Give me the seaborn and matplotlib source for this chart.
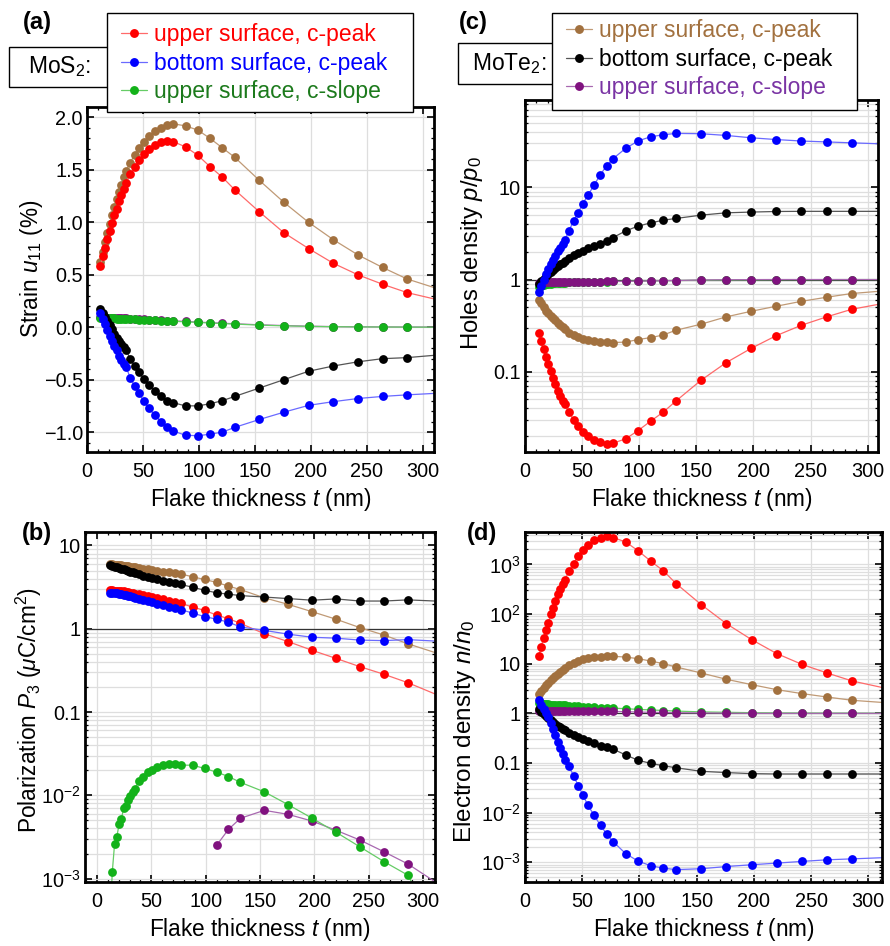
import numpy as np
import pandas as pd
import matplotlib
matplotlib.use("Agg")
import matplotlib.pyplot as plt
from matplotlib import ticker
from matplotlib.lines import Line2D
from matplotlib.patches import Rectangle
import seaborn as sns

nan = np.nan

# Flake thickness t (nm) shared by every curve
thickness = [12, 14.1, 16.2, 18.3, 20.4, 22.5, 24.5, 26.6, 28.7, 30.8, 32.9, 35,
             38.5, 42.5, 46.5, 50.5, 55, 60.5, 66, 71.5, 77,
             88, 99, 110, 121, 132, 154, 176, 198, 220, 242, 264, 286, 330]

# (a) strain u11 (%)
strain_red = [0.58, 0.68, 0.76, 0.84, 0.92, 0.99, 1.07, 1.13, 1.20, 1.26, 1.32, 1.38,
              1.46, 1.53, 1.59, 1.65, 1.70, 1.74, 1.77, 1.78, 1.77,
              1.72, 1.64, 1.53, 1.43, 1.31, 1.10, 0.90, 0.75, 0.61, 0.50, 0.41, 0.33, 0.22]
strain_blue = [0.14, 0.08, 0.03, -0.03, -0.08, -0.13, -0.18, -0.22, -0.27, -0.31, -0.35, -0.38,
               -0.48, -0.56, -0.63, -0.70, -0.77, -0.84, -0.90, -0.95, -0.99,
               -1.03, -1.035, -1.02, -1.00, -0.955, -0.88, -0.81, -0.745, -0.71, -0.68, -0.66, -0.645, -0.62]
strain_green = [0.090, 0.089, 0.088, 0.087, 0.086, 0.085, 0.084, 0.083, 0.082, 0.081, 0.080, 0.079,
                0.077, 0.075, 0.073, 0.071, 0.069, 0.066, 0.063, 0.060, 0.057,
                0.051, 0.046, 0.040, 0.035, 0.030, 0.020, 0.013, 0.008, 0.005, 0.003, 0.002, 0.001, 0.0]
strain_brown = [0.62, 0.72, 0.81, 0.90, 0.98, 1.07, 1.15, 1.22, 1.29, 1.36, 1.43, 1.49,
                1.57, 1.64, 1.71, 1.77, 1.82, 1.87, 1.90, 1.93, 1.94,
                1.92, 1.88, 1.80, 1.71, 1.62, 1.40, 1.19, 1.00, 0.835, 0.69, 0.57, 0.46, 0.31]
strain_black = [0.17, 0.14, 0.10, 0.06, 0.02, -0.02, -0.06, -0.10, -0.13, -0.16, -0.19, -0.22,
                -0.30, -0.37, -0.43, -0.49, -0.55, -0.61, -0.66, -0.70, -0.72,
                -0.75, -0.75, -0.73, -0.70, -0.66, -0.58, -0.50, -0.42, -0.37, -0.33, -0.30, -0.29, -0.25]
strain_purple = [0.095, 0.094, 0.093, 0.092, 0.091, 0.090, 0.089, 0.088, 0.087, 0.086, 0.085, 0.084,
                 0.082, 0.080, 0.078, 0.076, 0.073, 0.070, 0.067, 0.064, 0.061,
                 0.055, 0.049, 0.043, 0.038, 0.033, 0.023, 0.016, 0.010, 0.006, 0.004, 0.003, 0.002, 0.001]

# (b) polarization P3 (uC/cm^2)
pol_red = [2.88, 2.88, 2.87, 2.86, 2.84, 2.82, 2.80, 2.77, 2.74, 2.71, 2.68, 2.64,
           2.58, 2.52, 2.46, 2.40, 2.33, 2.25, 2.17, 2.10, 2.02,
           1.82, 1.66, 1.46, 1.32, 1.16, 0.87, 0.70, 0.55, 0.44, 0.35, 0.284, 0.225, 0.13]
pol_blue = [2.72, 2.70, 2.68, 2.66, 2.63, 2.60, 2.57, 2.53, 2.49, 2.45, 2.41, 2.37,
            2.30, 2.22, 2.15, 2.08, 2.00, 1.92, 1.84, 1.77, 1.70,
            1.54, 1.40, 1.30, 1.20, 1.05, 0.955, 0.86, 0.79, 0.77, 0.73, 0.72, 0.74, 0.69]
pol_green = [3e-4, 1.2e-3, 2.6e-3, 3.2e-3, 4.5e-3, 5.2e-3, 7.0e-3, 7.4e-3, 8.9e-3, 9.8e-3, 0.011, 0.012,
             0.0147, 0.0168, 0.0188, 0.0204, 0.0218, 0.023, 0.0238, 0.0238, 0.023,
             0.023, 0.021, 0.019, 0.0168, 0.0143, 0.011, 0.0077, 0.0053, 0.0036, 0.0024, 0.0016, 0.0011, 1e-4]
pol_brown = [5.95, 5.92, 5.88, 5.84, 5.80, 5.75, 5.70, 5.65, 5.60, 5.55, 5.50, 5.45,
             5.35, 5.25, 5.15, 5.05, 4.95, 4.85, 4.75, 4.65, 4.55,
             4.2, 3.9, 3.6, 3.25, 2.95, 2.35, 1.96, 1.6, 1.3, 1.03, 0.84, 0.66, 0.43]
pol_black = [5.75, 5.65, 5.55, 5.45, 5.35, 5.25, 5.15, 5.05, 4.95, 4.85, 4.75, 4.65,
             4.5, 4.35, 4.2, 4.05, 3.9, 3.75, 3.62, 3.5, 3.4,
             3.15, 2.9, 2.7, 2.6, 2.5, 2.4, 2.3, 2.2, 2.28, 2.15, 2.15, 2.22, 2.1]
pol_purple = [nan, nan, nan, nan, nan, nan, nan, nan, nan, nan, nan, nan,
              nan, nan, nan, nan, nan, nan, nan, nan, nan,
              nan, nan, 2.5e-3, 3.9e-3, 5.3e-3, 6.6e-3, 5.9e-3, 4.9e-3, 3.8e-3, 2.9e-3, 2.1e-3, 1.5e-3, 6.3e-4]

# (c) holes density p/p0
holes_red = [0.263, 0.215, 0.174, 0.145, 0.12, 0.102, 0.086, 0.073, 0.0616, 0.054, 0.0478, 0.0441,
             0.0362, 0.0302, 0.0254, 0.0223, 0.0198, 0.0179, 0.017, 0.0165, 0.0167,
             0.0186, 0.0229, 0.029, 0.0363, 0.0478, 0.0804, 0.125, 0.179, 0.246, 0.319, 0.393, 0.475, 0.6]
holes_blue = [0.74, 0.86, 1.0, 1.14, 1.3, 1.47, 1.64, 1.82, 2.02, 2.22, 2.45, 2.7,
              3.4, 4.3, 5.3, 6.6, 8.2, 10.6, 13.8, 17.2, 20.5,
              26.5, 32, 35.5, 37.3, 38.6, 38.3, 36.7, 34.6, 33.1, 31.9, 31.2, 30.5, 29.2]
holes_green = [0.83, 0.86, 0.88, 0.89, 0.90, 0.905, 0.91, 0.915, 0.92, 0.922, 0.925, 0.928,
               0.93, 0.933, 0.936, 0.939, 0.942, 0.945, 0.948, 0.95, 0.952,
               0.955, 0.96, 0.965, 0.97, 0.975, 0.983, 0.988, 0.992, 0.995, 0.997, 0.998, 0.999, 1.0]
holes_brown = [0.596, 0.55, 0.5, 0.46, 0.43, 0.40, 0.38, 0.36, 0.34, 0.32, 0.305, 0.29,
               0.265, 0.25, 0.237, 0.226, 0.218, 0.213, 0.21, 0.208, 0.207,
               0.209, 0.223, 0.234, 0.25, 0.281, 0.327, 0.393, 0.452, 0.513, 0.58, 0.642, 0.705, 0.78]
holes_black = [0.9, 0.96, 1.02, 1.08, 1.15, 1.21, 1.28, 1.34, 1.41, 1.47, 1.53, 1.6,
               1.72, 1.84, 1.95, 2.06, 2.18, 2.32, 2.46, 2.65, 2.85,
               3.37, 3.8, 4.12, 4.41, 4.6, 5.0, 5.3, 5.4, 5.48, 5.5, 5.5, 5.5, 5.5]
holes_purple = [0.92, 0.925, 0.93, 0.932, 0.934, 0.936, 0.938, 0.94, 0.941, 0.942, 0.943, 0.944,
                0.945, 0.946, 0.947, 0.948, 0.949, 0.95, 0.951, 0.952, 0.953,
                0.956, 0.96, 0.965, 0.97, 0.975, 0.99, 0.995, 0.998, 1.0, 1.0, 1.0, 1.0, 1.0]

# (d) electron density n/n0
elec_red = [14.1, 21.7, 33, 47, 67.5, 99, 135, 184, 251, 321, 399, 496,
            740, 1042, 1463, 1933, 2473, 3077, 3482, 3700, 3482,
            2840, 1870, 1160, 741, 412, 155, 64, 30.6, 16, 9.7, 6.5, 4.48, 2.7]
elec_blue = [1.83, 1.5, 1.22, 1.0, 0.85, 0.65, 0.48, 0.36, 0.27, 0.2, 0.15, 0.115,
             0.085, 0.055, 0.035, 0.023, 0.014, 0.0088, 0.0055, 0.0037, 0.0026,
             0.00149, 0.00105, 0.00085, 0.00076, 0.00071, 0.00074, 0.00082, 0.00089, 0.00096, 0.00104, 0.00112, 0.00117, 0.00128]
elec_green = [1.6, 1.58, 1.56, 1.54, 1.52, 1.5, 1.49, 1.48, 1.47, 1.46, 1.45, 1.44,
              1.42, 1.4, 1.38, 1.36, 1.34, 1.32, 1.3, 1.28, 1.27,
              1.24, 1.2, 1.17, 1.14, 1.11, 1.07, 1.05, 1.03, 1.02, 1.015, 1.01, 1.01, 1.0]
elec_brown = [2.42, 2.8, 3.2, 3.65, 4.1, 4.6, 5.15, 5.7, 6.3, 6.9, 7.5, 8.1,
              9.4, 10.5, 11.4, 12.2, 12.9, 13.5, 13.9, 14.1, 14.1,
              13.6, 12.6, 11.3, 10, 8.6, 6.5, 4.85, 3.79, 3.0, 2.5, 2.13, 1.83, 1.55]
elec_black = [1.2, 1.08, 0.97, 0.88, 0.8, 0.73, 0.67, 0.62, 0.56, 0.52, 0.48, 0.454,
              0.41, 0.37, 0.335, 0.305, 0.28, 0.25, 0.222, 0.208, 0.19,
              0.145, 0.113, 0.098, 0.088, 0.08, 0.068, 0.064, 0.061, 0.06, 0.06, 0.06, 0.06, 0.06]
elec_purple = [1.12, 1.12, 1.12, 1.115, 1.115, 1.11, 1.11, 1.11, 1.105, 1.105, 1.1, 1.1,
               1.1, 1.1, 1.1, 1.1, 1.1, 1.095, 1.095, 1.09, 1.09,
               1.08, 1.06, 1.05, 1.04, 1.03, 1.02, 1.01, 1.0, 1.0, 1.0, 1.0, 1.0, 1.0]

mos2_labels = ["upper surface, c-peak", "bottom surface, c-peak", "upper surface, c-slope"]
mote2_labels = ["upper surface, c-peak", "bottom surface, c-peak", "upper surface, c-slope"]

# marker colour, connecting-line colour, legend text colour
STYLE = {
    "red":    ("#ff0000", "#ff6a6a", "#ff0000"),
    "blue":   ("#0000ff", "#6a6aff", "#0000ff"),
    "green":  ("#13b21a", "#66cc66", "#1c7a1c"),
    "brown":  ("#a2713f", "#c09a76", "#a2713f"),
    "black":  ("#000000", "#555555", "#000000"),
    "purple": ("#80127f", "#a868b0", "#7a34a4"),
}

sns.set_theme(style="ticks")
plt.rcParams.update({
    "font.family": ["Liberation Sans", "DejaVu Sans"],
    "mathtext.fontset": "custom",
    "mathtext.rm": "Liberation Sans",
    "mathtext.it": "Liberation Sans:italic",
    "mathtext.bf": "Liberation Sans:bold",
    "axes.linewidth": 2.0,
    "axes.edgecolor": "black",
    "xtick.color": "black",
    "ytick.color": "black",
    "text.color": "black",
    "axes.labelcolor": "black",
})

W, H = 890, 946
fig = plt.figure(figsize=(W / 100, H / 100), dpi=100)


def px_axes(left, top, right, bottom):
    return fig.add_axes([left / W, 1 - bottom / H, (right - left) / W, (bottom - top) / H])


ax_a = px_axes(87, 107, 434, 452)
ax_b = px_axes(85, 532, 435, 882)
ax_c = px_axes(525, 100, 878, 452)
ax_d = px_axes(525, 532, 882, 882)

GRID = "#dedede"
TICK_FS = 14.3
LABEL_FS = 16.3
LEGEND_FS = 16.5


def draw_series(ax, values, key, z):
    mcol, lcol, _ = STYLE[key]
    df = pd.DataFrame({"t": thickness, "v": values}).dropna()
    sns.lineplot(data=df, x="t", y="v", ax=ax, color=lcol, lw=0.9,
                 sort=False, estimator=None, zorder=z)
    sns.scatterplot(data=df, x="t", y="v", ax=ax, color=mcol, s=40,
                    linewidth=0, zorder=z + 0.5)


def style_axes(ax, xlim, log, ylim):
    ax.set_xlim(*xlim)
    ax.set_ylim(*ylim)
    ax.set_xticks(np.arange(0, 301, 50))
    ax.xaxis.set_minor_locator(ticker.MultipleLocator(10))
    ax.tick_params(which="both", direction="in", top=True, right=True,
                   labelsize=TICK_FS)
    ax.tick_params(which="major", length=5, width=1.2)
    ax.tick_params(which="minor", length=2.5, width=0.9)
    ax.tick_params(axis="x", pad=7)
    ax.tick_params(axis="y", pad=3)
    ax.grid(True, which="major", axis="x", color=GRID, lw=0.9)
    ax.grid(True, which="both" if log else "major", axis="y", color=GRID, lw=0.9)
    ax.set_axisbelow(True)
    ax.set_xlabel("Flake thickness $t$ (nm)", fontsize=LABEL_FS, labelpad=4)
    for s in ax.spines.values():
        s.set_zorder(10)


def log_ticks(ax, decades, labels):
    ax.set_yscale("log")
    ax.yaxis.set_major_locator(ticker.FixedLocator(decades))
    ax.yaxis.set_major_formatter(ticker.FixedFormatter(labels))
    ax.yaxis.set_minor_locator(ticker.LogLocator(base=10, subs=np.arange(2, 10), numticks=30))
    ax.yaxis.set_minor_formatter(ticker.NullFormatter())


# (a) strain
for vals, key, z in [(strain_purple, "purple", 2), (strain_green, "green", 3),
                     (strain_brown, "brown", 4), (strain_red, "red", 5),
                     (strain_black, "black", 6), (strain_blue, "blue", 7)]:
    draw_series(ax_a, vals, key, z)
style_axes(ax_a, (0, 310), False, (-1.19, 2.1))
ax_a.set_yticks(np.arange(-1.0, 2.01, 0.5))
ax_a.yaxis.set_major_formatter(ticker.FuncFormatter(lambda v, p: f"{v:.1f}".replace("-", "\u2212")))
ax_a.yaxis.set_minor_locator(ticker.MultipleLocator(0.1))
ax_a.set_ylabel("Strain $u_{11}$ (%)", fontsize=LABEL_FS)
ax_a.yaxis.set_label_coords(-0.122, 0.53)

# (b) polarization
log_ticks(ax_b, [1e-3, 1e-2, 1e-1, 1, 10], ["$10^{-3}$", "$10^{-2}$", "0.1", "1", "10"])
for vals, key, z in [(pol_purple, "purple", 2), (pol_green, "green", 3),
                     (pol_brown, "brown", 4), (pol_black, "black", 5),
                     (pol_red, "red", 6), (pol_blue, "blue", 7)]:
    draw_series(ax_b, vals, key, z)
ax_b.axhline(1, color="#333333", lw=0.9, zorder=1.5)
style_axes(ax_b, (-11, 311), True, (9.1e-4, 14.5))
ax_b.set_ylabel("Polarization $P_3$ ($\\mu$C/cm$^2$)", fontsize=LABEL_FS)
ax_b.yaxis.set_label_coords(-0.116, 0.49)

# (c) holes density
log_ticks(ax_c, [0.1, 1, 10], ["0.1", "1", "10"])
for vals, key, z in [(holes_green, "green", 2), (holes_purple, "purple", 3),
                     (holes_brown, "brown", 4), (holes_red, "red", 5),
                     (holes_black, "black", 6), (holes_blue, "blue", 7)]:
    draw_series(ax_c, vals, key, z)
ax_c.axhline(1, color="#333333", lw=0.9, zorder=1.5)
style_axes(ax_c, (0, 309), True, (0.0134, 89))
ax_c.set_ylabel("Holes density $p/p_0$", fontsize=17.2)
ax_c.yaxis.set_label_coords(-0.113, 0.565)

# (d) electron density
log_ticks(ax_d, [1e-3, 1e-2, 0.1, 1, 10, 100, 1000],
          ["$10^{-3}$", "$10^{-2}$", "0.1", "1", "10", "$10^{2}$", "$10^{3}$"])
for vals, key, z in [(elec_green, "green", 2), (elec_purple, "purple", 3),
                     (elec_brown, "brown", 4), (elec_red, "red", 5),
                     (elec_black, "black", 6), (elec_blue, "blue", 7)]:
    draw_series(ax_d, vals, key, z)
ax_d.axhline(1, color="#333333", lw=0.9, zorder=1.5)
style_axes(ax_d, (0, 312), True, (4e-4, 4500))
ax_d.set_ylabel("Electron density $n/n_0$", fontsize=17.5)
ax_d.yaxis.set_label_coords(-0.132, 0.43)


def frame_box(left, top, right, bottom, z):
    fig.patches.append(Rectangle((left / W, 1 - bottom / H), (right - left) / W,
                                 (bottom - top) / H, transform=fig.transFigure,
                                 facecolor="white", edgecolor="black", lw=1.0,
                                 zorder=z))


def legend_box(keys, labels, box, anchor):
    frame_box(*box, z=18)
    handles = [Line2D([0], [0], color=STYLE[k][1], lw=0.9, marker="o",
                      markersize=6.4, markerfacecolor=STYLE[k][0],
                      markeredgewidth=0) for k in keys]
    leg = fig.legend(handles, labels, loc="upper left",
                     bbox_to_anchor=(anchor[0] / W, 1 - anchor[1] / H),
                     fontsize=LEGEND_FS, frameon=False, handlelength=1.13,
                     handletextpad=0.3, labelspacing=0.25, borderpad=0,
                     borderaxespad=0,
                     labelcolor=[STYLE[k][2] for k in keys])
    leg.set_zorder(20)
    return leg


legend_box(["red", "blue", "green"], mos2_labels, (107, 13, 413, 112), (121, 23))
legend_box(["brown", "black", "purple"], mote2_labels, (552, 13, 857, 110), (566, 19))


def name_box(text, left, top, right, bottom):
    frame_box(left, top, right, bottom, z=15)
    fig.text((left + right) / 2 / W, 1 - (top + bottom) / 2 / H, text,
             ha="center", va="center", fontsize=LEGEND_FS, zorder=16)


name_box("MoS$_2$:", 9, 47, 111, 87)
name_box("MoTe$_2$:", 458, 43, 560, 84)

for lab, x, y in [("(a)", 37, 23), ("(b)", 37, 533), ("(c)", 473, 22), ("(d)", 482, 533)]:
    fig.text(x / W, 1 - y / H, lab, ha="center", va="center",
             fontsize=17, fontweight="bold")

fig.savefig("out.png", dpi=100)
